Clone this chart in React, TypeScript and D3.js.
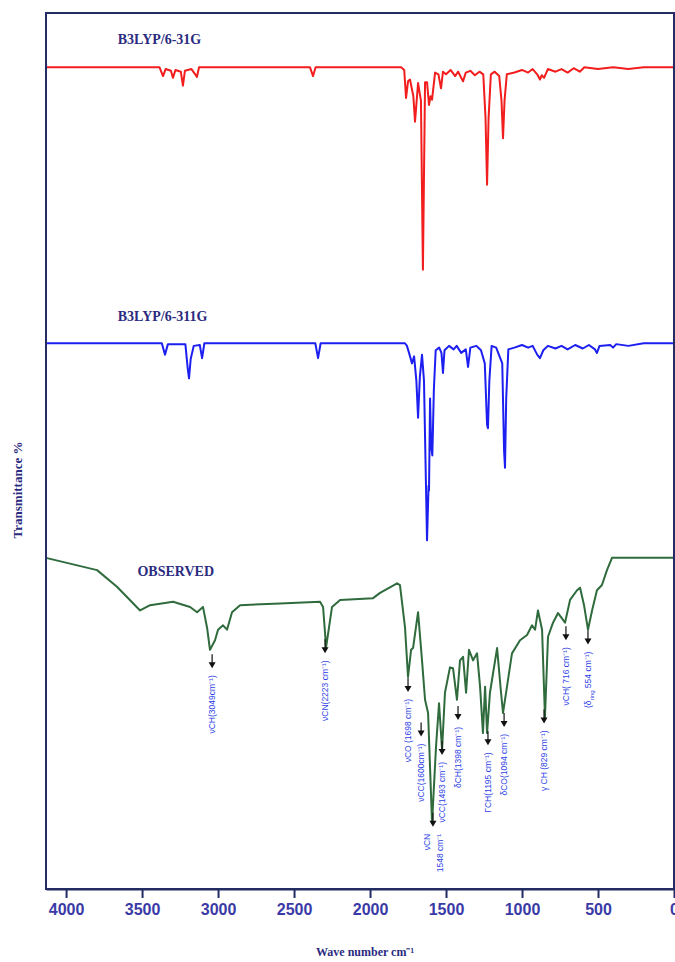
import React, { useEffect, useRef } from 'react';
import * as d3 from 'd3';

// wavenumber (cm-1), transmittance % (stacked, arbitrary offset)
const calc631G: [number, number][] = [
  [4132, 93.8], [3385, 93.8], [3362, 92.8], [3345, 93.6], [3310, 93.4], [3297, 92.6], [3280, 93.5],
  [3245, 93.3], [3231, 91.7], [3218, 93.4], [3175, 93.6], [3150, 93.0], [3139, 92.7], [3125, 93.8],
  [2395, 93.8], [2375, 92.8], [2358, 93.8], [1795, 93.8], [1775, 93.5], [1763, 90.3], [1750, 92.2],
  [1737, 92.4], [1715, 90.5], [1704, 87.6], [1684, 92.0], [1665, 90.0], [1652, 70.7], [1638, 92.1],
  [1625, 92.1], [1612, 89.5], [1602, 90.5], [1592, 90.1], [1572, 93.2], [1550, 93.0], [1533, 91.4],
  [1520, 93.3], [1500, 93.0], [1470, 93.5], [1440, 92.8], [1420, 93.3], [1400, 92.6], [1388, 92.2],
  [1370, 93.2], [1340, 93.4], [1310, 92.9], [1280, 93.3], [1255, 93.0], [1240, 88.0], [1230, 80.4],
  [1220, 88.0], [1205, 93.0], [1180, 93.3], [1150, 92.8], [1135, 90.0], [1125, 85.7], [1115, 90.0],
  [1100, 93.0], [1050, 93.2], [1000, 93.5], [960, 93.2], [930, 93.6], [900, 93.0], [882, 92.4],
  [870, 92.9], [855, 92.6], [830, 93.6], [780, 93.3], [740, 93.6], [700, 93.2], [660, 93.7],
  [620, 93.3], [590, 93.8], [500, 93.6], [400, 93.8], [300, 93.6], [200, 93.8], [0, 93.8],
];

const calc6311G: [number, number][] = [
  [4132, 62.3], [3370, 62.3], [3349, 61.0], [3330, 62.2], [3215, 62.2], [3200, 59.5], [3191, 58.3],
  [3180, 60.5], [3160, 62.0], [3120, 62.1], [3105, 60.6], [3090, 62.3], [2360, 62.3], [2342, 60.6],
  [2325, 62.3], [1770, 62.3], [1757, 62.0], [1740, 61.0], [1724, 60.0], [1710, 60.8], [1695, 58.0],
  [1684, 53.8], [1672, 58.5], [1658, 61.0], [1645, 58.0], [1625, 39.8], [1615, 46.0], [1612, 45.5],
  [1605, 56.0], [1598, 50.5], [1590, 49.5], [1580, 57.0], [1568, 61.5], [1545, 61.8], [1530, 61.2],
  [1520, 58.9], [1510, 61.5], [1480, 62.0], [1450, 61.6], [1430, 62.0], [1400, 61.2], [1370, 61.6],
  [1355, 59.6], [1340, 61.8], [1300, 62.0], [1270, 61.5], [1245, 60.0], [1230, 53.0], [1224, 52.6],
  [1215, 58.0], [1200, 62.0], [1170, 61.8], [1130, 60.0], [1118, 50.0], [1112, 48.1], [1104, 56.0],
  [1090, 61.6], [1050, 61.8], [1000, 62.1], [960, 61.8], [930, 62.0], [900, 61.0], [882, 60.6],
  [860, 61.5], [830, 62.0], [780, 61.7], [740, 62.0], [700, 61.6], [650, 62.1], [600, 61.7],
  [560, 62.1], [520, 61.6], [507, 61.2], [490, 62.0], [420, 62.1], [401, 61.8], [380, 62.2],
  [300, 62.0], [200, 62.3], [0, 62.3],
];

const observed: [number, number][] = [
  [4132, 37.8], [3796, 36.4], [3665, 34.5], [3513, 31.8], [3447, 32.4], [3296, 32.8], [3184, 32.2],
  [3138, 31.6], [3099, 32.2], [3072, 29.8], [3053, 27.3], [3020, 28.4], [3000, 29.6], [2967, 30.1],
  [2941, 29.6], [2908, 31.6], [2855, 32.4], [2592, 32.6], [2329, 32.8], [2309, 32.2], [2289, 27.6],
  [2250, 32.2], [2197, 33.0], [1980, 33.2], [1934, 33.8], [1822, 34.9], [1803, 34.7], [1770, 29.9],
  [1750, 24.2], [1730, 27.3], [1717, 27.5], [1684, 31.6], [1658, 26.1], [1638, 21.6], [1618, 20.1],
  [1592, 7.5], [1566, 16.2], [1546, 21.2], [1526, 15.9], [1507, 22.4], [1474, 25.3], [1454, 25.2],
  [1428, 21.6], [1408, 26.1], [1388, 26.5], [1368, 22.4], [1349, 27.3], [1322, 26.1], [1296, 26.9],
  [1276, 23.1], [1257, 17.8], [1243, 23.1], [1230, 17.8], [1211, 22.4], [1164, 27.5], [1138, 22.4],
  [1125, 20.1], [1105, 22.4], [1066, 26.9], [1013, 28.4], [967, 29.0], [934, 30.1], [914, 29.6],
  [895, 31.8], [868, 29.6], [849, 19.6], [829, 28.8], [796, 30.4], [763, 31.5], [737, 30.9],
  [717, 30.4], [684, 33.0], [638, 34.1], [618, 34.4], [592, 32.4], [566, 29.6], [539, 31.8],
  [507, 34.1], [474, 34.7], [441, 36.4], [408, 37.8], [0, 37.8],
];

const seriesNames = ['B3LYP/6-31G', 'B3LYP/6-311G', 'OBSERVED'];
const seriesLabelAt: [number, number][] = [[3660, 96.5], [3660, 64.8], [3530, 35.7]];

const xTicks = [4000, 3500, 3000, 2500, 2000, 1500, 1000, 500, 0];

// arrow position (cm-1), arrow tip (transmittance), label lines
const peakWn = [3039, 2296, 1750, 1664, 1586, 1526, 1421, 1224, 1118, 855, 711, 566];
const peakTip = [25.2, 26.9, 22.5, 17.4, 7.1, 15.3, 19.3, 16.4, 18.5, 18.9, 28.4, 27.9];
const peakText = [
  ['νCH(3049cm⁻¹)'],
  ['νCN(2223 cm⁻¹)'],
  ['νCO (1698 cm⁻¹)'],
  ['νCC(1600cm⁻¹)'],
  ['νCN', '1548 cm⁻¹'],
  ['νCC(1493 cm⁻¹)'],
  ['δCH(1398 cm⁻¹)'],
  ['ΓCH(1195 cm⁻¹)'],
  ['δCO(1094 cm⁻¹)'],
  ['γ CH (829 cm⁻¹)'],
  ['νCH( 716 cm⁻¹)'],
  ['(δring 554 cm⁻¹)'],
];

const App = () => {
  const ref = useRef<SVGSVGElement>(null);

  useEffect(() => {
    const width = 675, height = 962;
    const left = 46, right = 674, top = 13, bottom = 889;
    const navy = '#232c63';
    const textNavy = '#2b2b80';

    const svg = d3.select(ref.current).attr('width', width).attr('height', height);
    svg.selectAll('*').remove();

    const x = d3.scaleLinear().domain([4132, 0]).range([left, right]);
    const y = d3.scaleLinear().domain([0, 100]).range([bottom, top]);

    const line = d3.line<[number, number]>().x(d => x(d[0])).y(d => y(d[1]));

    const lines = [
      { data: calc631G, color: '#f21d1d' },
      { data: calc6311G, color: '#1c1ff0' },
      { data: observed, color: '#2f6b3c' },
    ];
    lines.forEach(s => {
      svg.append('path').attr('d', line(s.data)).attr('fill', 'none')
        .attr('stroke', s.color).attr('stroke-width', 2).attr('stroke-linejoin', 'round');
    });

    seriesNames.forEach((name, i) => {
      svg.append('text').attr('x', x(seriesLabelAt[i][0])).attr('y', y(seriesLabelAt[i][1]))
        .style('font-family', '"Liberation Serif", "Times New Roman", serif')
        .style('font-weight', 'bold').style('font-size', '14px').attr('fill', textNavy)
        .text(name);
    });

    // annotation arrows
    peakWn.forEach((wn, i) => {
      const px = x(wn), tip = y(peakTip[i]);
      svg.append('line').attr('x1', px).attr('x2', px).attr('y1', tip - 14).attr('y2', tip - 4)
        .attr('stroke', '#111').attr('stroke-width', 1.2);
      svg.append('path').attr('d', `M${px - 3.5},${tip - 6}L${px + 3.5},${tip - 6}L${px},${tip}Z`)
        .attr('fill', '#111');
      const txt = peakText[i];
      txt.forEach((t, j) => {
        const lx = txt.length > 1 ? px - 6 + j * 13 : px;
        const el = svg.append('text')
          .attr('transform', `translate(${lx},${tip + 7}) rotate(-90)`)
          .attr('text-anchor', 'end').attr('dy', '0.35em')
          .style('font-family', '"Liberation Sans", Arial, sans-serif')
          .style('font-size', '8.5px').attr('fill', '#2d3fe6');
        if (t.includes('δring')) {
          el.append('tspan').text('(δ');
          el.append('tspan').attr('baseline-shift', 'sub').style('font-size', '6px').text('ring');
          el.append('tspan').text(t.replace('(δring', ''));
        } else {
          el.text(t);
        }
      });
    });

    // frame
    svg.append('rect').attr('x', left).attr('y', top).attr('width', right - left).attr('height', bottom - top)
      .attr('fill', 'none').attr('stroke', navy).attr('stroke-width', 2);

    const xAxis = svg.append('g').attr('transform', `translate(0,${bottom})`)
      .call(d3.axisBottom(x).tickValues(xTicks).tickSize(9).tickSizeOuter(0).tickPadding(6).tickFormat(d3.format('d')));
    xAxis.select('.domain').attr('stroke', navy).attr('stroke-width', 2);
    xAxis.selectAll('.tick line').attr('stroke', navy).attr('stroke-width', 2);
    xAxis.selectAll('.tick text')
      .style('font-family', '"Liberation Sans", Arial, sans-serif')
      .style('font-weight', 'bold').style('font-size', '16px').attr('fill', '#3a3aa6');

    svg.append('text').attr('x', (left + right) / 2 + 5).attr('y', 956).attr('text-anchor', 'middle')
      .style('font-family', '"Liberation Serif", "Times New Roman", serif')
      .style('font-weight', 'bold').style('font-size', '12px').attr('fill', textNavy)
      .text('Wave number cm⁻¹');

    svg.append('text').attr('transform', `translate(22,${490}) rotate(-90)`).attr('text-anchor', 'middle')
      .style('font-family', '"Liberation Serif", "Times New Roman", serif')
      .style('font-weight', 'bold').style('font-size', '13px').attr('fill', textNavy)
      .text('Transmittance %');
  }, []);

  return (
    <svg ref={ref} style={{ position: 'absolute', left: 0, top: 0, background: '#fff' }}></svg>
  );
};

export default App;
